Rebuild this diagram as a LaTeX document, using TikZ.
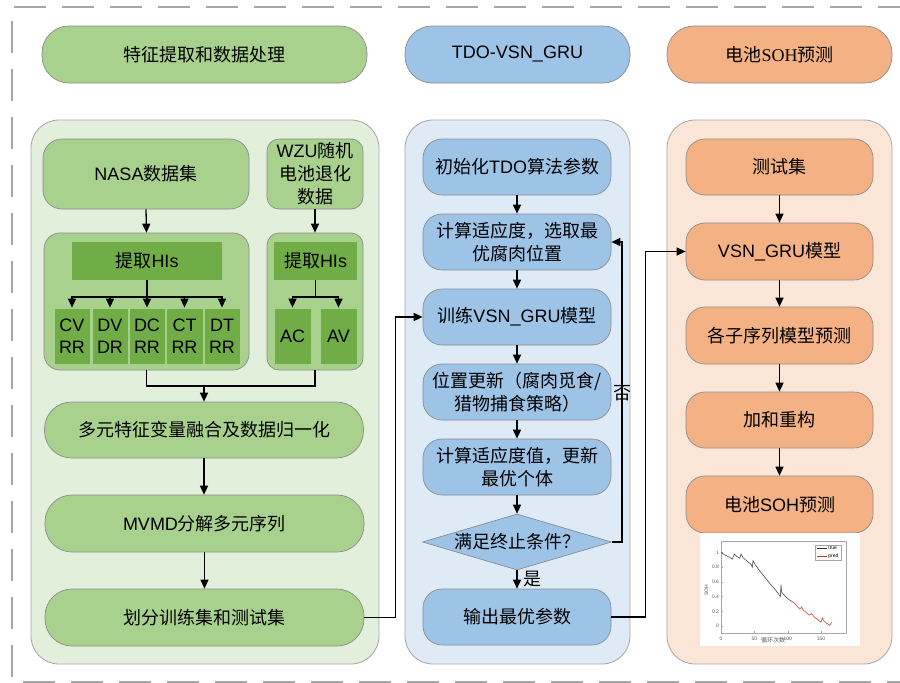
\documentclass[tikz,border=0pt]{standalone}
\usepackage{fontspec}
\setmainfont{Liberation Sans}
\newfontfamily\cjk{Noto Sans CJK SC}
\newfontfamily\serifrm{Liberation Serif}
\usetikzlibrary{arrows.meta,shapes.geometric}
\newcommand\zh[1]{{\cjk #1}}
\newcommand\fs{\fontsize{18}{23}\selectfont}

\definecolor{gA}{HTML}{A9D18E}
\definecolor{gBg}{HTML}{E2EFDA}
\definecolor{gD}{HTML}{70AD47}
\definecolor{bA}{HTML}{9DC3E6}
\definecolor{bBg}{HTML}{DEEBF7}
\definecolor{oA}{HTML}{F4B183}
\definecolor{oBg}{HTML}{FBE5D6}
\definecolor{edge}{HTML}{8C8C8C}
\definecolor{frame}{HTML}{A6A6A6}
\definecolor{predred}{HTML}{D62728}

\tikzset{
  base/.style={draw=edge, line width=0.7pt, inner sep=0pt, align=center, text=black, font=\fs},
  cn/.style={font=\fs\cjk},
  pill/.style={base, rounded corners=27pt},
  rbox/.style={base, rounded corners=19pt},
  panel/.style={draw=frame, line width=0.8pt, rounded corners=28pt},
  hibox/.style={base, draw=none, fill=gD},
  cell/.style={base, draw=gA, line width=0.8pt, fill=gD, minimum width=36pt, minimum height=56pt, font=\fontsize{18}{22}\selectfont},
  arr/.style={line width=1.3pt, -{Triangle[length=9pt,width=8pt]}},
  link/.style={line width=1.3pt},
  tick/.style={font=\fontsize{5}{6}\selectfont, inner sep=0.5pt},
}

\begin{document}
\begin{tikzpicture}[x=1pt, y=-1pt]
\useasboundingbox (0,0) rectangle (900,683);
\fill[white] (0,0) rectangle (900,683);

% outer dashed frame
\draw[frame, line width=1.3pt, dash pattern=on 32pt off 16pt] (910,7) -- (12,7) -- (12,682) -- (910,682);

% column headers
\node[pill, fill=gA, minimum width=325pt, minimum height=57pt, cn] (hA) at (204.5,54.5) {特征提取和数据处理};
\node[pill, fill=bA, minimum width=225pt, minimum height=57pt] (hB) at (517.5,54.5) {TDO-VSN\_GRU};
\node[pill, fill=oA, minimum width=225pt, minimum height=57pt] (hC) at (779.5,54.5) {\zh{电池}{\serifrm SOH}\zh{预测}};

% column panels
\node[panel, fill=gBg, minimum width=348pt, minimum height=544pt] (pA) at (205,392) {};
\node[panel, fill=bBg, minimum width=225pt, minimum height=544pt] (pB) at (517.5,392) {};
\node[panel, fill=oBg, minimum width=225pt, minimum height=544pt] (pC) at (779.5,392) {};

% ---------- feature extraction column ----------
\node[rbox, fill=gA, minimum width=206pt, minimum height=70pt] (nasa) at (146,174) {NASA\zh{数据集}};
\node[base, rounded corners=12pt, fill=gA, minimum width=96pt, minimum height=70pt] (wzu) at (315,174) {WZU\zh{随机}\\\zh{电池退化}\\\zh{数据}};

\node[base, rounded corners=16pt, fill=gA, minimum width=205pt, minimum height=137pt] (subL) at (146.5,301.5) {};
\node[base, rounded corners=12pt, fill=gA, minimum width=96pt, minimum height=137pt] (subR) at (315,301.5) {};

\node[hibox, minimum width=150pt, minimum height=38pt] (hisL) at (147,261) {\zh{提取}HIs};
\node[hibox, minimum width=83pt, minimum height=38pt] (hisR) at (315.5,261) {\zh{提取}HIs};

\node[cell] (cv) at (72,336) {CV\\RR};
\node[cell] (dv) at (110,336) {DV\\DR};
\node[cell] (dc) at (147,336) {DC\\RR};
\node[cell, minimum width=37pt] (ct) at (184.5,336) {CT\\RR};
\node[cell] (dt) at (222,336) {DT\\RR};
\node[cell, minimum width=37pt] (ac) at (292.5,336) {AC};
\node[cell, minimum width=37pt] (av) at (338.5,336) {AV};

\node[pill, fill=gA, minimum width=319pt, minimum height=56pt, cn] (fuse) at (204,430) {多元特征变量融合及数据归一化};
\node[pill, fill=gA, minimum width=319pt, minimum height=57pt] (mvmd) at (204.5,523.5) {MVMD\zh{分解多元序列}};
\node[pill, fill=gA, minimum width=319pt, minimum height=57pt, cn] (split) at (204.5,617.5) {划分训练集和测试集};

% ---------- TDO-VSN_GRU column ----------
\node[rbox, fill=bA, minimum width=188pt, minimum height=56pt] (b1) at (517,167) {\zh{初始化}TDO\zh{算法参数}};
\node[rbox, fill=bA, minimum width=188pt, minimum height=56pt, cn] (b2) at (517,242) {计算适应度，选取最\\优腐肉位置};
\node[rbox, fill=bA, minimum width=188pt, minimum height=56pt] (b3) at (517,317) {\zh{训练}VSN\_GRU\zh{模型}};
\node[rbox, fill=bA, minimum width=188pt, minimum height=56pt, cn] (b4) at (517,392) {位置更新（腐肉觅食/\\猎物捕食策略）};
\node[rbox, fill=bA, minimum width=188pt, minimum height=56pt, cn] (b5) at (517,467) {计算适应度值，更新\\最优个体};
\node[diamond, draw=edge, line width=0.7pt, fill=bA, inner sep=0pt, minimum width=189pt, minimum height=56pt,
      label={[cn]center:满足终止条件？}] (dia) at (517,542) {};
\node[rbox, fill=bA, minimum width=188pt, minimum height=56pt, cn] (b6) at (517,617) {输出最优参数};

% ---------- SOH prediction column ----------
\node[rbox, fill=oA, minimum width=187pt, minimum height=56pt, cn] (o1) at (779.5,167) {测试集};
\node[rbox, fill=oA, minimum width=187pt, minimum height=57pt] (o2) at (779.5,251.5) {VSN\_GRU\zh{模型}};
\node[rbox, fill=oA, minimum width=187pt, minimum height=57pt, cn] (o3) at (779.5,335.5) {各子序列模型预测};
\node[rbox, fill=oA, minimum width=187pt, minimum height=56pt, cn] (o4) at (779.5,420) {加和重构};
\node[rbox, fill=oA, minimum width=187pt, minimum height=57pt] (o5) at (779.5,504.5) {\zh{电池}SOH\zh{预测}};

% ---------- connectors: feature column ----------
\draw[arr] (nasa.south) -- (subL.north);
\draw[arr] (wzu.south) -- (subR.north);

\coordinate (barL) at (147,297);
\draw[link] (hisL.south) -- (barL);
\foreach \c in {cv,dv,dc,ct,dt} \draw[arr] (barL) -| (\c.north);

\coordinate (barR) at (315.5,297);
\draw[link] (hisR.south) -- (barR);
\foreach \c in {ac,av} \draw[arr] (barR) -| (\c.north);

\coordinate (jn) at (204,386);
\draw[link] (subL.south) |- (jn) -| (subR.south);
\draw[arr] (jn) -- (fuse.north);
\draw[arr] (fuse.south) -- (fuse.south |- mvmd.north);
\draw[arr] (mvmd.south) -- (split.north);
\draw[arr] (split.east) -- ++(31,0) |- (b3.west);

% ---------- connectors: optimisation loop ----------
\draw[arr] (b1) -- (b2);
\draw[arr] (b2) -- (b3);
\draw[arr] (b3) -- (b4);
\draw[arr] (b4) -- (b5);
\draw[arr] (b5) -- (dia);
\draw[arr] (dia) -- (b6) node[pos=0.5, right=3pt, cn] {是};
\draw[arr] (dia.east) -- ++(10,0) |- (b2.east);
\node[cn, inner sep=0pt] (no) at (622,393) {否};
\draw[arr] (b6.east) -- ++(34,0) |- (o2.west);

% ---------- connectors: prediction column ----------
\draw[arr] (o1) -- (o2);
\draw[arr] (o2) -- (o3);
\draw[arr] (o3) -- (o4);
\draw[arr] (o4) -- (o5);

% ---------- SOH curve inset ----------
\fill[white] (700,533) rectangle (860,646);
\begin{scope}[shift={(721,626)}, xscale=0.6667, yscale=-73.5]
  \draw[gray!70, line width=0.4pt] (0,-0.095) rectangle (187.5,1.157);
  \foreach \t in {0,50,100,150} {
    \draw[gray!70, line width=0.3pt] (\t,-0.095) -- (\t,-0.07);
    \node[tick, text=gray!70!black] at (\t,-0.175) {\t};
  }
  \foreach \t/\l in {0/0,0.2/0.2,0.4/0.4,0.6/0.6,0.8/0.8,1/1} {
    \draw[gray!70, line width=0.3pt] (0,\t) -- (3,\t);
    \node[tick, anchor=east, text=gray!70!black] at (-2,\t) {\l};
  }
  \node[tick, rotate=90, text=gray!70!black] at (-22,0.49) {SOH};
  \node[font=\fontsize{6}{7}\selectfont\cjk, text=gray!70!black, inner sep=0pt] at (78,-0.2) {循环次数};
  % measured values
  \draw[black!80, line width=0.5pt] plot coordinates {
    (0,1.0) (5,0.97) (12,0.94) (17,0.91) (20,0.98) (23,0.95) (28,0.92) (30,0.98) (33,0.93)
    (38,0.89) (45,0.84) (47,0.80) (48,0.89) (51,0.84) (58,0.75) (66,0.66) (74,0.57)
    (80,0.51) (86,0.44) (89,0.40) (90,0.56) (91,0.46) (95,0.42) (100,0.37) (104,0.35) (107,0.33) (110,0.31)};
  % predicted values
  \draw[predred, line width=0.5pt] plot coordinates {
    (110,0.31) (114,0.27) (118,0.23) (121,0.26) (123,0.22) (128,0.18) (133,0.15) (136,0.17)
    (140,0.12) (146,0.08) (150,0.05) (152,0.11) (154,0.07) (158,0.04) (163,0.01) (166,0.05)};
  % legend
  \draw[gray!70, line width=0.3pt, fill=white] (141,1.102) rectangle (180,0.898);
  \draw[black!80, line width=0.5pt] (144,1.061) -- (159,1.061);
  \node[tick, anchor=west] at (160,1.061) {true};
  \draw[predred, line width=0.5pt] (144,0.952) -- (159,0.952);
  \node[tick, anchor=west] at (160,0.952) {pred};
\end{scope}
\end{tikzpicture}
\end{document}
